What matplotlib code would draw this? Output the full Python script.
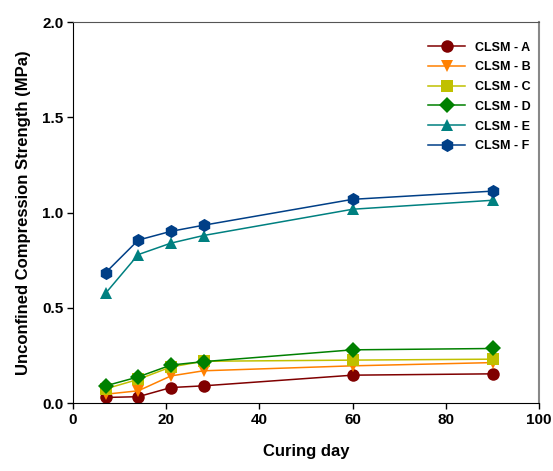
import matplotlib
matplotlib.use("Agg")
import matplotlib.pyplot as plt

plt.rcParams["font.family"] = ["Liberation Sans", "DejaVu Sans"]
plt.rcParams["font.weight"] = "bold"

DAYS = [7, 14, 21, 28, 60, 90]

CLSM_A = [0.030, 0.034, 0.082, 0.091, 0.147, 0.154]
CLSM_B = [0.047, 0.065, 0.143, 0.170, 0.196, 0.213]
CLSM_C = [0.075, 0.125, 0.190, 0.220, 0.226, 0.231]
CLSM_D = [0.091, 0.138, 0.200, 0.218, 0.280, 0.287]
CLSM_E = [0.577, 0.780, 0.840, 0.880, 1.018, 1.065]
CLSM_F = [0.685, 0.856, 0.902, 0.934, 1.070, 1.113]

SERIES = [
    ("CLSM - A", CLSM_A, "#800000", "o", 9),
    ("CLSM - B", CLSM_B, "#FF8000", "v", 9),
    ("CLSM - C", CLSM_C, "#C0C000", "s", 8.5),
    ("CLSM - D", CLSM_D, "#008000", "D", 8),
    ("CLSM - E", CLSM_E, "#008080", "^", 9),
    ("CLSM - F", CLSM_F, "#003F87", "h", 9.5),
]

fig = plt.figure(figsize=(5.53, 4.71), dpi=100)
ax = fig.add_axes([0.132, 0.144, 0.843, 0.809])

for label, vals, color, marker, ms in SERIES:
    ax.plot(DAYS, vals, color=color, marker=marker, markersize=ms,
            linewidth=1.1, markeredgewidth=0, label=label)

ax.set_xlim(0, 100)
ax.set_ylim(0, 2.0)
ax.set_xticks([0, 20, 40, 60, 80, 100])
ax.set_yticks([0.0, 0.5, 1.0, 1.5, 2.0])
ax.set_yticklabels(["0.0", "0.5", "1.0", "1.5", "2.0"])
ax.tick_params(direction="out", length=4, width=1, labelsize=11, pad=3)
for lbl in ax.get_xticklabels() + ax.get_yticklabels():
    lbl.set_fontweight("bold")

ax.spines["top"].set_color("#555555")
ax.spines["right"].set_color("#888888")
ax.spines["right"].set_linewidth(1.5)

ax.set_xlabel("Curing day", fontsize=12, fontweight="bold", labelpad=12)
ax.set_ylabel("Unconfined Compression Strength (MPa)", fontsize=12,
              fontweight="bold", labelpad=8)

leg = ax.legend(loc="upper right", bbox_to_anchor=(1.0, 0.972), frameon=False,
                fontsize=9, handlelength=3.0, handletextpad=0.75,
                labelspacing=0.62, borderaxespad=0.3)
for t in leg.get_texts():
    t.set_fontweight("bold")

fig.savefig("out.png", dpi=100)
